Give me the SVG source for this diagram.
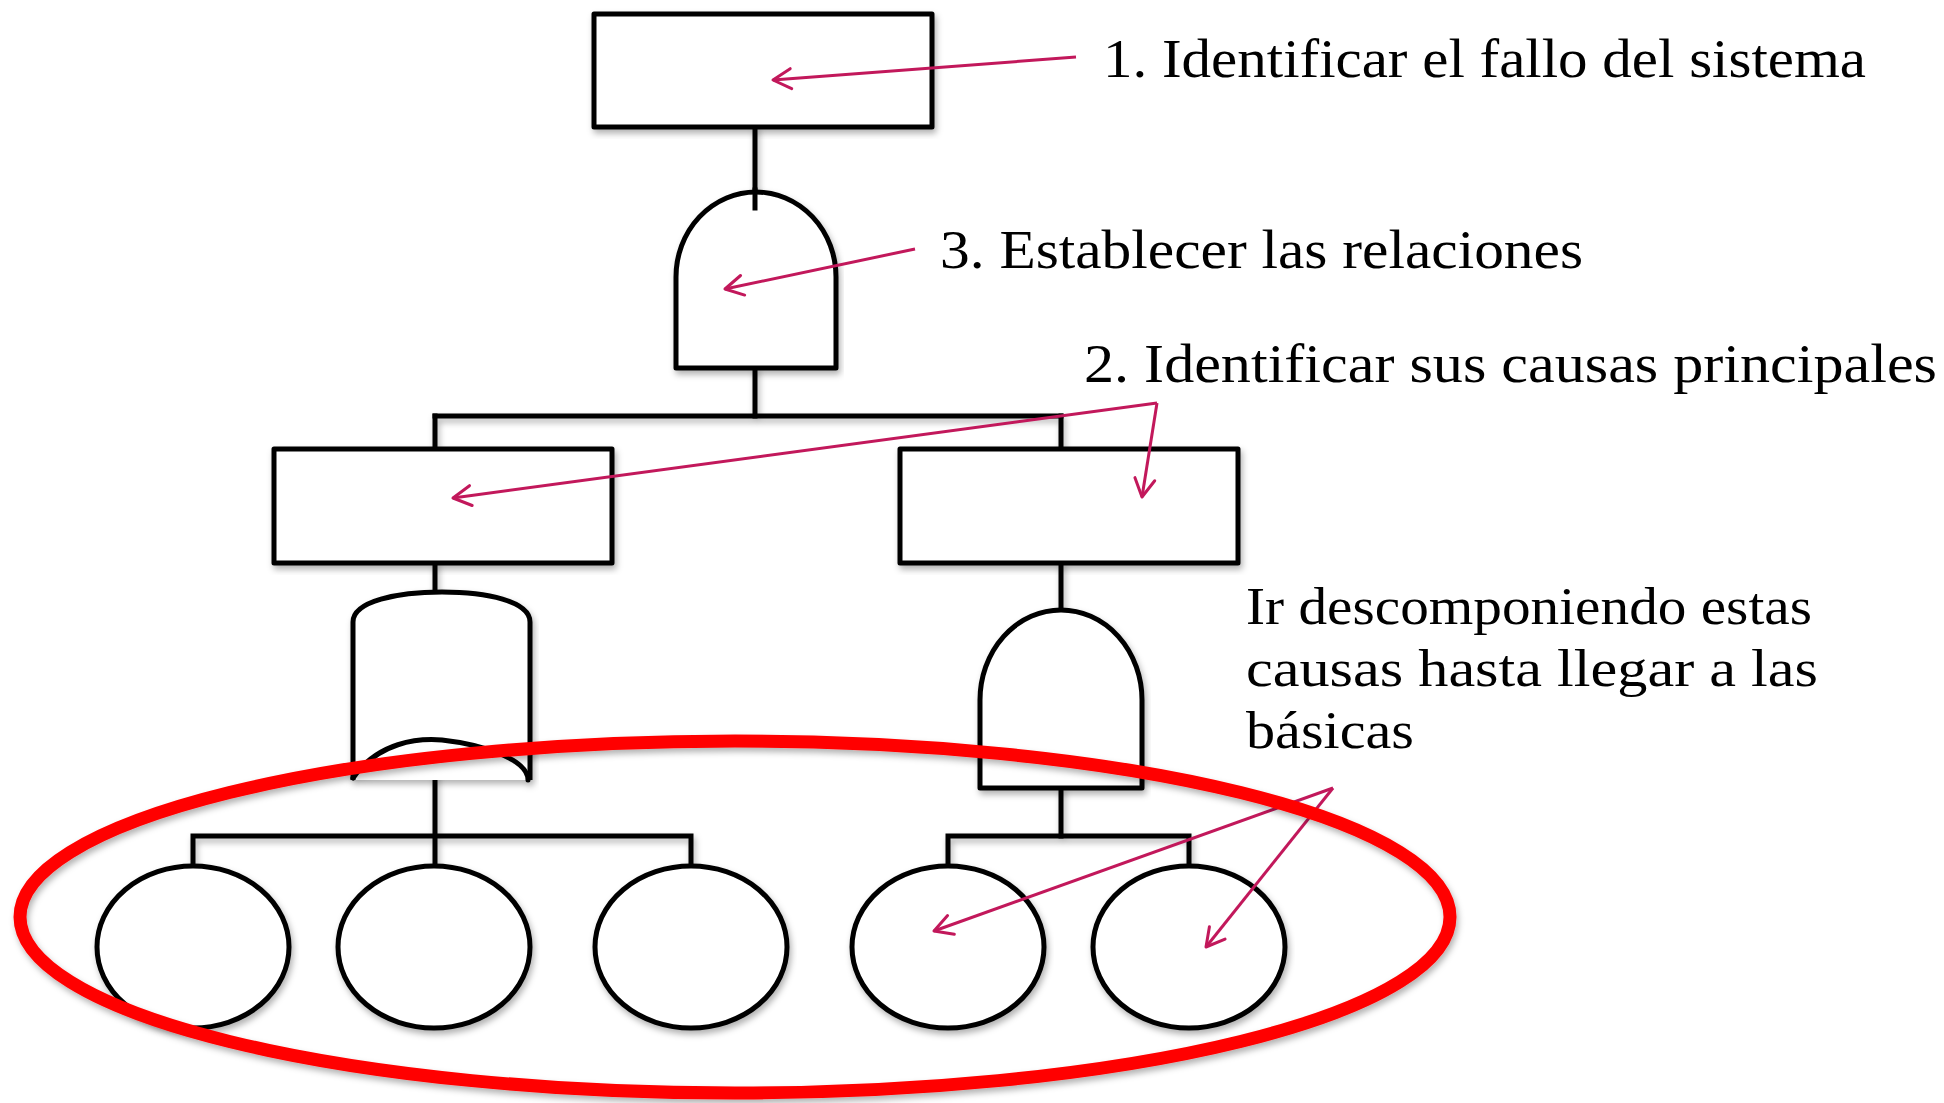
<svg xmlns="http://www.w3.org/2000/svg" width="1944" height="1103" viewBox="0 0 1944 1103">
  <defs>
    <style>
      .ln { fill: none; stroke: #000; stroke-width: 5; stroke-linecap: square; }
      .shape { fill: #fff; stroke: #000; stroke-width: 5; stroke-linejoin: round; }
      .ev { fill: #fff; stroke: #000; stroke-width: 5; }
      .note { fill: none; stroke: #C2185B; stroke-width: 3; marker-end: url(#openArrow); }
      .lbl { font-family: "Liberation Serif", "Times New Roman", serif; fill: #000; }
    </style>
    <marker id="openArrow" viewBox="0 0 24 24" refX="22" refY="12" markerWidth="24" markerHeight="24" markerUnits="userSpaceOnUse" orient="auto">
      <path d="M4,2 L22,12 L4,22" fill="none" stroke="#C2185B" stroke-width="3" stroke-linecap="round" stroke-linejoin="round"/>
    </marker>
    <filter id="shadow" x="-5%" y="-5%" width="110%" height="115%">
      <feDropShadow dx="2" dy="4" stdDeviation="3" flood-color="#000" flood-opacity="0.3"/>
    </filter>
  </defs>

  <!-- tree connectors -->
  <g id="connectors" filter="url(#shadow)">
    <path class="ln" d="M755,127 V208"/>
    <path class="ln" d="M755,368 V416"/>
    <path class="ln" d="M435,416 H1061"/>
    <path class="ln" d="M435,416 V449 M1061,416 V449"/>
    <path class="ln" d="M435,563 V593"/>
    <path class="ln" d="M1061,563 V610"/>
    <path class="ln" d="M435,739 V866"/>
    <path class="ln" d="M193,836 H691 M193,836 V866 M691,836 V866"/>
    <path class="ln" d="M1061,788 V836"/>
    <path class="ln" d="M948,836 H1189 M948,836 V866 M1189,836 V866"/>
  </g>

  <!-- top event -->
  <g id="top-event" filter="url(#shadow)">
    <rect class="shape" x="594" y="14" width="338" height="113"/>
  </g>

  <!-- top AND gate -->
  <g id="gate-and-top" filter="url(#shadow)">
    <path class="shape" d="M676,368 V277 A80,85 0 0 1 836,277 V368 Z"/>
    <path class="ln" d="M755,190 V208"/>
  </g>

  <!-- intermediate events -->
  <g id="event-left" filter="url(#shadow)">
    <rect class="shape" x="274" y="449" width="338" height="114"/>
  </g>
  <g id="event-right" filter="url(#shadow)">
    <rect class="shape" x="900" y="449" width="338" height="114"/>
  </g>

  <!-- OR gate under left event -->
  <g id="gate-or-left" filter="url(#shadow)">
    <path class="shape" d="M353,780 V622 C353,601 398,592 442,592 C486,592 530,601 530,622 V780"/>
    <path class="ln" style="stroke-linecap:round" d="M353,778 C378,742 418,738 442,740 C478,744 528,758 528,780"/>
  </g>

  <!-- AND gate under right event -->
  <g id="gate-and-right" filter="url(#shadow)">
    <path class="shape" d="M980,788 V700 A81,90 0 0 1 1142,700 V788 Z"/>
  </g>

  <!-- basic events -->
  <g id="basic-1" filter="url(#shadow)"><ellipse class="ev" cx="193" cy="947" rx="96" ry="81"/></g>
  <g id="basic-2" filter="url(#shadow)"><ellipse class="ev" cx="434" cy="947" rx="96" ry="81"/></g>
  <g id="basic-3" filter="url(#shadow)"><ellipse class="ev" cx="691" cy="947" rx="96" ry="81"/></g>
  <g id="basic-4" filter="url(#shadow)"><ellipse class="ev" cx="948" cy="947" rx="96" ry="81"/></g>
  <g id="basic-5" filter="url(#shadow)"><ellipse class="ev" cx="1189" cy="947" rx="96" ry="81"/></g>

  <!-- annotation pointers -->
  <g id="annotation-arrows">
    <path class="note" d="M1076,57 L773,80"/>
    <path class="note" d="M915,249 L725,289"/>
    <path class="note" d="M1157,403 L453,498"/>
    <path class="note" d="M1157,403 L1142,497"/>
    <path class="note" d="M1333,788 L934,931"/>
    <path class="note" d="M1333,788 L1206,947"/>
  </g>

  <!-- highlight around basic events -->
  <g id="highlight" filter="url(#shadow)">
    <ellipse cx="735" cy="917" rx="715" ry="176" fill="none" stroke="#FF0000" stroke-width="13"/>
  </g>

  <!-- annotation labels -->
  <g id="labels">
    <text class="lbl" x="1103" y="77" font-size="55" textLength="763" lengthAdjust="spacingAndGlyphs">1. Identificar el fallo del sistema</text>
    <text class="lbl" x="940" y="268" font-size="55" textLength="643" lengthAdjust="spacingAndGlyphs">3. Establecer las relaciones</text>
    <text class="lbl" x="1084" y="382" font-size="55" textLength="853" lengthAdjust="spacingAndGlyphs">2. Identificar sus causas principales</text>
    <text class="lbl" x="1246" y="624" font-size="52" textLength="566" lengthAdjust="spacingAndGlyphs">Ir descomponiendo estas</text>
    <text class="lbl" x="1246" y="686" font-size="52" textLength="572" lengthAdjust="spacingAndGlyphs">causas hasta llegar a las</text>
    <text class="lbl" x="1246" y="748" font-size="52" textLength="168" lengthAdjust="spacingAndGlyphs">básicas</text>
  </g>
</svg>
